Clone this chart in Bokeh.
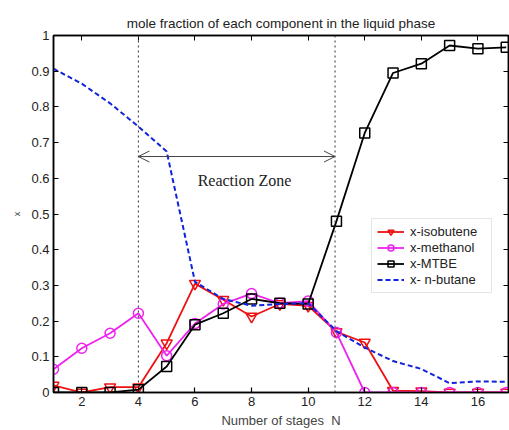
from bokeh.plotting import figure
from bokeh.models import (Range1d, FixedTicker, LinearAxis, Span, Arrow, OpenHead,
                          Label, Legend, LegendItem, NumeralTickFormatter)
from bokeh.embed import file_html
from bokeh.resources import INLINE

# ---- data ----
stages = list(range(1, 18))
x_isobutene = [0.02, 0.0, 0.015, 0.015, 0.138, 0.305, 0.26, 0.213, 0.248, 0.243,
               0.17, 0.14, 0.005, 0.004, 0.0, 0.0, 0.0]
x_methanol = [0.065, 0.124, 0.166, 0.222, 0.103, 0.193, 0.248, 0.277, 0.25, 0.256,
              0.168, 0.0, 0.0, 0.0, 0.0, 0.0, 0.0]
x_mtbe = [0.0, 0.0, 0.0, 0.008, 0.073, 0.19, 0.222, 0.262, 0.25, 0.248,
          0.48, 0.727, 0.895, 0.921, 0.972, 0.963, 0.967]
x_nbutane = [0.907, 0.865, 0.81, 0.745, 0.675, 0.31, 0.262, 0.243, 0.248, 0.25,
             0.172, 0.126, 0.088, 0.066, 0.026, 0.031, 0.03]
series_names = ["x-isobutene", "x-methanol", "x-MTBE", "x- n-butane"]
x_ticks = [2, 4, 6, 8, 10, 12, 14, 16]
y_ticks = [0, 0.1, 0.2, 0.3, 0.4, 0.5, 0.6, 0.7, 0.8, 0.9, 1]
zone_bounds = [4, 10.95]
arrow_y = 0.661
zone_label = "Reaction Zone"
zone_label_pos = (7.75, 0.593)

FONT = "Liberation Sans"

p = figure(width=509, height=430, output_backend="svg", toolbar_location=None,
           x_range=Range1d(1, 17.08), y_range=Range1d(0, 1),
           min_border_left=53, min_border_right=1, min_border_top=35, min_border_bottom=36)
p.grid.visible = False
p.outline_line_color = "black"
p.outline_line_width = 1.5
p.background_fill_color = "white"

p.title.text = "mole fraction of each component in the liquid phase"
p.title.align = "center"
p.title.text_font = FONT
p.title.text_font_style = "normal"
p.title.text_font_size = "13.5px"
p.title.text_color = "#222222"
p.title.offset = 0

for ax in (p.xaxis[0], p.yaxis[0]):
    ax.major_tick_in = 5
    ax.major_tick_out = 0
    ax.minor_tick_line_color = None
    ax.axis_line_width = 1.5
    ax.major_tick_line_width = 1.2
    ax.major_label_text_font = FONT
    ax.major_label_text_font_size = "13px"
    ax.major_label_text_color = "#222222"
    ax.axis_label_text_font = FONT
    ax.axis_label_text_font_style = "normal"

p.xaxis.ticker = FixedTicker(ticks=x_ticks)
p.yaxis.ticker = FixedTicker(ticks=y_ticks)
p.yaxis.formatter = NumeralTickFormatter(format="0.[0]")
p.xaxis.axis_label = "Number of stages\u00a0\u00a0N"
p.xaxis.axis_label_text_font_size = "13px"
p.xaxis.axis_label_standoff = 4
p.xaxis.major_label_standoff = 4
p.yaxis.axis_label = "x"
p.yaxis.axis_label_text_font_size = "9px"
p.yaxis.axis_label_standoff = 6
p.yaxis.major_label_standoff = 4

top = LinearAxis(ticker=FixedTicker(ticks=x_ticks), major_tick_in=5, major_tick_out=0,
                 minor_tick_line_color=None, major_label_text_font_size="0px",
                 major_label_standoff=0, axis_line_width=1.5)
right = LinearAxis(ticker=FixedTicker(ticks=y_ticks), major_tick_in=5, major_tick_out=0,
                   minor_tick_line_color=None, major_label_text_font_size="0px",
                   major_label_standoff=0, axis_line_width=1.5)
p.add_layout(top, "above")
p.add_layout(right, "right")

for xb in zone_bounds:
    p.add_layout(Span(location=xb, dimension="height", line_color="#333333",
                      line_width=1, line_dash="2 3"))

p.add_layout(Arrow(x_start=zone_bounds[0], x_end=zone_bounds[1], y_start=arrow_y, y_end=arrow_y,
                   line_color="#444444", line_width=1,
                   start=OpenHead(size=11, line_color="#444444", line_width=1),
                   end=OpenHead(size=11, line_color="#444444", line_width=1)))
p.add_layout(Label(x=zone_label_pos[0], y=zone_label_pos[1], text=zone_label,
                   text_font="Liberation Serif", text_font_size="16px",
                   text_align="center", text_baseline="middle", text_color="#222222"))

l1 = p.line(stages, x_isobutene, line_color="#ee1111", line_width=1.8)
m1 = p.scatter(stages, x_isobutene, marker="inverted_triangle", size=11,
               line_color="#ee1111", fill_color=None, line_width=1.5)
l2 = p.line(stages, x_methanol, line_color="#ee22ee", line_width=1.8)
m2 = p.scatter(stages, x_methanol, marker="circle", size=10,
               line_color="#ee22ee", fill_color=None, line_width=1.5)
l3 = p.line(stages, x_mtbe, line_color="black", line_width=1.8)
m3 = p.scatter(stages, x_mtbe, marker="square", size=10,
               line_color="black", fill_color=None, line_width=1.5)
l4 = p.line(stages, x_nbutane, line_color="#1122dd", line_width=2, line_dash="5 3")

legend = Legend(items=[
    LegendItem(label=series_names[0], renderers=[l1, m1]),
    LegendItem(label=series_names[1], renderers=[l2, m2]),
    LegendItem(label=series_names[2], renderers=[l3, m3]),
    LegendItem(label=series_names[3], renderers=[l4]),
], location=(318, 99))
legend.label_text_font = FONT
legend.label_text_font_size = "13px"
legend.label_text_color = "#222222"
legend.glyph_width = 27
legend.glyph_height = 15
legend.label_height = 15
legend.label_width = 76
legend.spacing = 1
legend.padding = 5
legend.margin = 0
legend.label_standoff = 6
legend.border_line_color = "#cccccc"
legend.border_line_width = 1
legend.background_fill_color = "white"
legend.background_fill_alpha = 1
p.add_layout(legend)

open("out.html", "w").write(file_html(p, INLINE))
